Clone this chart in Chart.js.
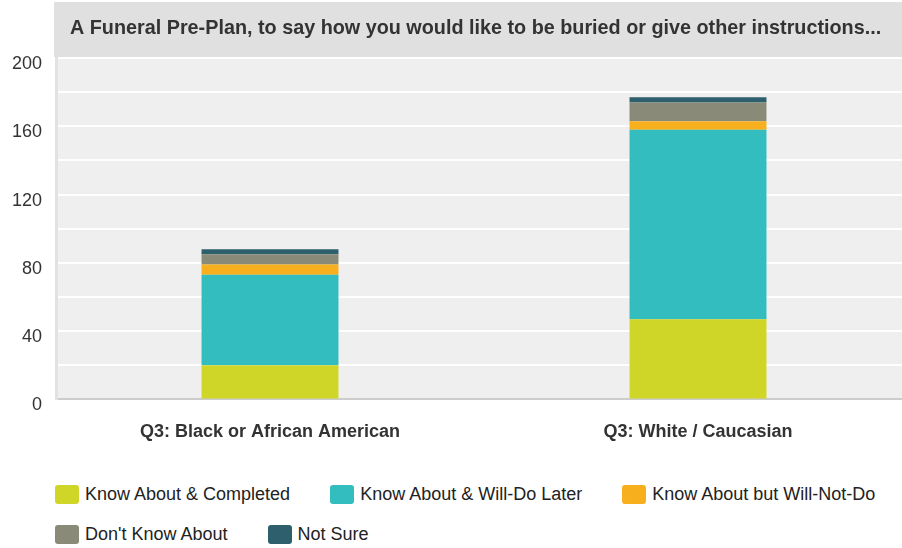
<!DOCTYPE html>
<html>
<head>
<meta charset="utf-8">
<script src="https://cdn.jsdelivr.net/npm/chart.js@4.4.0/dist/chart.umd.min.js"></script>
<style>
    html, body { margin: 0; background: #fff; overflow: hidden; font-family: Arial, "Liberation Sans", sans-serif; }
    #wrap { position: absolute; left: 0; top: 0; width: 912px; height: 465px; }
    #legend { position: absolute; left: 55px; top: 474px; width: 880px; }
    .row { display: flex; }
    .item { display: flex; align-items: center; margin-right: 40px; height: 40px; font-size: 18px; color: #222; white-space: nowrap; }
    .box { width: 24px; height: 19px; border-radius: 3px; margin-right: 6px; }
</style>
</head>
<body>
<div id="wrap"><canvas id="chart"></canvas></div>
<div id="legend"></div>
<script>
const categories = ['Q3: Black or African American', 'Q3: White / Caucasian'];
const seriesNames = ['Know About & Completed', 'Know About & Will-Do Later', 'Know About but Will-Not-Do', "Don't Know About", 'Not Sure'];
const seriesColors = ['#cfd628', '#34bdbf', '#f8af1e', '#8a8a78', '#2e5f6d'];
const completed = [20, 47];
const willDoLater = [53, 111];
const willNotDo = [6, 5];
const dontKnow = [6, 11];
const notSure = [3, 3];
const titleText = 'A Funeral Pre-Plan, to say how you would like to be buried or give other instructions...';

const values = [completed, willDoLater, willNotDo, dontKnow, notSure];
const font = 'Arial, "Liberation Sans", sans-serif';

// gray header box and plot background
const backdrop = {
    id: 'backdrop',
    beforeDraw(chart) {
        const ctx = chart.ctx, a = chart.chartArea;
        ctx.save();
        ctx.fillStyle = '#e0e0e0';
        ctx.fillRect(a.left - 2, 2, chart.width - a.left + 2, 55);
        ctx.fillStyle = '#efefef';
        ctx.fillRect(a.left, a.top, a.right - a.left, a.bottom - a.top);
        ctx.fillStyle = '#333';
        ctx.font = 'bold 19.8px ' + font;
        ctx.textBaseline = 'middle';
        ctx.fillText(titleText, 70, 29);
        ctx.restore();
    }
};

new Chart(document.getElementById('chart'), {
    type: 'bar',
    data: {
        labels: categories,
        datasets: values.map((v, i) => ({
            label: seriesNames[i],
            data: v,
            backgroundColor: seriesColors[i],
            borderWidth: 0,
            barPercentage: 0.32,
            categoryPercentage: 1
        }))
    },
    options: {
        responsive: true,
        maintainAspectRatio: false,
        animation: false,
        layout: { padding: { top: 58, right: 0, left: 0, bottom: 0 } },
        scales: {
            x: {
                stacked: true,
                grid: { display: false, drawTicks: false },
                border: { color: '#cccccc', width: 2 },
                ticks: {
                    padding: 22,
                    color: '#333',
                    font: { size: 18, weight: 'bold', family: font }
                }
            },
            y: {
                stacked: true,
                min: 0,
                max: 200,
                afterFit: s => { s.width = 56; },
                grid: { color: '#ffffff', lineWidth: 2, drawTicks: false },
                border: { color: '#e2e2e2', width: 3 },
                ticks: {
                    stepSize: 20,
                    padding: 14,
                    labelOffset: 6,
                    color: '#333',
                    font: { size: 18, family: font },
                    callback: v => v % 40 === 0 ? v : ''
                }
            }
        },
        plugins: {
            legend: { display: false },
            title: { display: false },
            tooltip: { enabled: false }
        }
    },
    plugins: [backdrop]
});

// two legend rows, three items then two
const legend = document.getElementById('legend');
[[0, 1, 2], [3, 4]].forEach(row => {
    legend.insertAdjacentHTML('beforeend', '<div class="row">' + row.map(i =>
        `<div class="item"><span class="box" style="background:${seriesColors[i]}"></span>${seriesNames[i]}</div>`
    ).join('') + '</div>');
});
</script>
</body>
</html>
